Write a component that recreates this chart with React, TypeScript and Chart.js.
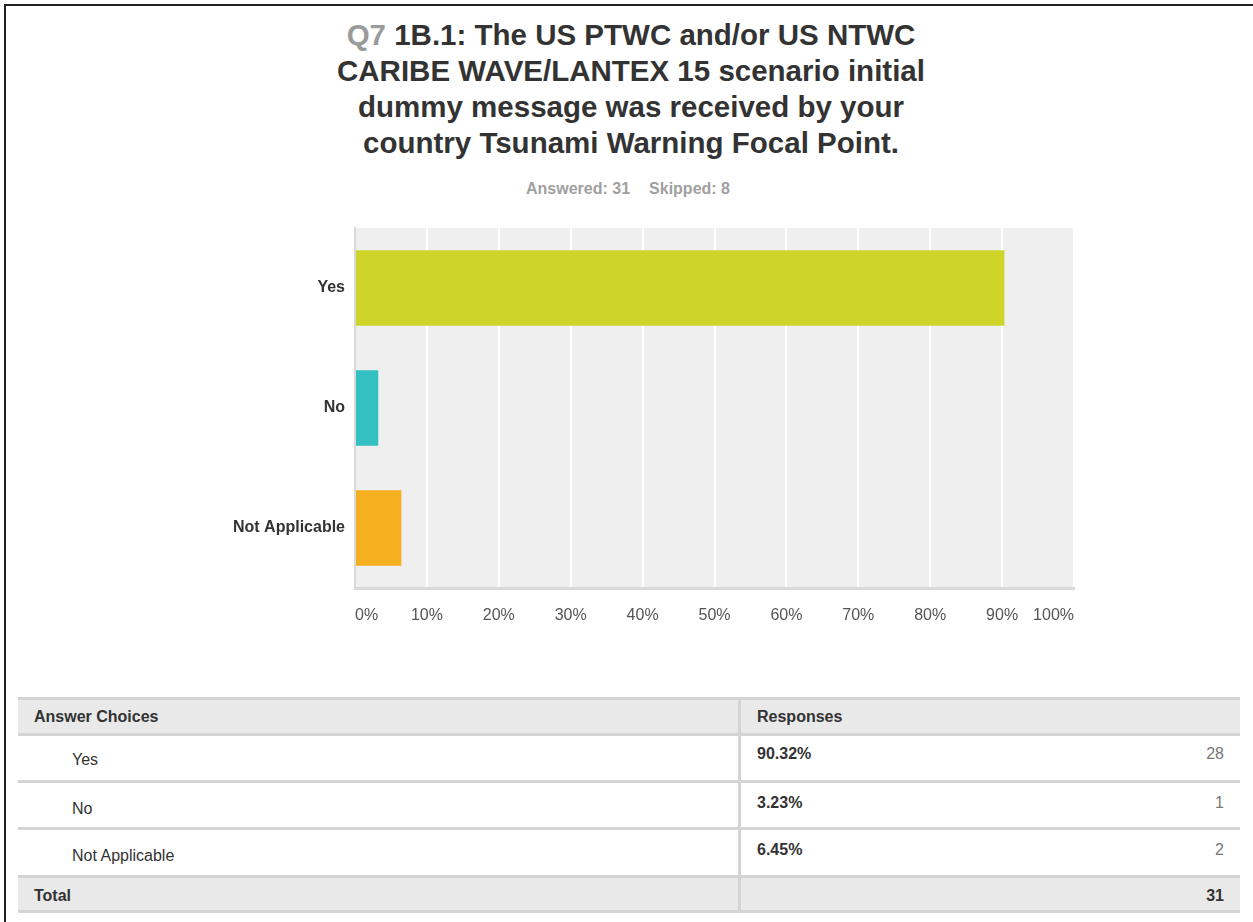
import React, { useEffect, useRef } from "react";
import { Chart, registerables } from "chart.js";

Chart.register(...registerables);

const questionNo = "Q7";
const titleLines = [
  "1B.1: The US PTWC and/or US NTWC",
  "CARIBE WAVE/LANTEX 15 scenario initial",
  "dummy message was received by your",
  "country Tsunami Warning Focal Point.",
];
const answered = 31;
const skipped = 8;
const categories = ["Yes", "No", "Not Applicable"];
const percentValues = [90.32, 3.23, 6.45];
const counts = [28, 1, 2];
const total = 31;
const barColors = ["#cfd428", "#34bfc0", "#f6af1e"];
const xTicks = [0, 10, 20, 30, 40, 50, 60, 70, 80, 90, 100];

const FONT = "'Liberation Sans', Arial, Helvetica, sans-serif";

const plotBg = {
  id: "plotBg",
  beforeDraw(chart: any) {
    const { ctx, chartArea } = chart;
    ctx.save();
    ctx.fillStyle = "#efefef";
    ctx.fillRect(chartArea.left, chartArea.top, chartArea.right - chartArea.left, chartArea.bottom - chartArea.top);
    ctx.restore();
  },
};

function BarChart() {
  const ref = useRef<HTMLCanvasElement>(null);
  useEffect(() => {
    if (!ref.current) return;
    const chart = new Chart(ref.current, {
      type: "bar",
      data: {
        labels: categories,
        datasets: [
          {
            data: percentValues,
            backgroundColor: barColors,
            borderWidth: 0,
            barPercentage: 0.63,
            categoryPercentage: 1,
          },
        ],
      },
      plugins: [plotBg],
      options: {
        indexAxis: "y",
        responsive: false,
        animation: false,
        devicePixelRatio: 1,
        layout: { padding: { top: 8, right: 26, bottom: 12, left: 0 } },
        plugins: {
          legend: { display: false },
          tooltip: { enabled: false },
          title: { display: false },
        },
        scales: {
          x: {
            min: 0,
            max: 100,
            afterFit: (s: any) => {
              s.height = 40;
              s.paddingLeft = 0;
              s.paddingRight = 0;
            },
            afterBuildTicks: (s: any) => {
              s.ticks = xTicks.map((v) => ({ value: v }));
            },
            ticks: {
              align: "inner",
              padding: 18,
              color: "#555",
              font: { family: FONT, size: 16 },
              callback: (v: any) => v + "%",
            },
            grid: {
              drawTicks: false,
              lineWidth: 2,
              color: (c: any) => (c.index === 0 ? "rgba(0,0,0,0)" : "#ffffff"),
            },
            border: { display: true, color: "#d9d9d9", width: 3 },
          },
          y: {
            afterFit: (s: any) => {
              s.width = 155;
              s.paddingTop = 0;
              s.paddingBottom = 0;
            },
            ticks: {
              padding: 10,
              color: "#333",
              font: { family: FONT, size: 16, weight: "bold" },
            },
            grid: { drawTicks: false, color: "rgba(0,0,0,0)" },
            border: { display: true, color: "#d9d9d9", width: 2 },
          },
        },
      },
    } as any);
    return () => chart.destroy();
  }, []);
  return <canvas ref={ref} width={900} height={420} style={{ display: "block", width: 900, height: 420 }} />;
}

const abs = (l: number, t: number, w: number, h: number, extra: any = {}) => ({
  position: "absolute" as const,
  left: l,
  top: t,
  width: w,
  height: h,
  ...extra,
});

export default function App() {
  const tableLeft = 18;
  const tableRight = 1240;
  const divX = 738;
  const lineColor = "#d4d4d4";
  const rowTops = [733, 782, 829];
  const textStyle = { fontFamily: FONT, fontSize: 16, color: "#333", lineHeight: "18px", whiteSpace: "nowrap" as const };

  return (
    <div style={{ position: "absolute", left: 0, top: 0, width: 1253, height: 922, background: "#fff", fontFamily: FONT, overflow: "hidden" }}>
      {/* page frame */}
      <div style={abs(4, 4, 1249, 2, { background: "#222" })} />
      <div style={abs(4, 4, 2, 918, { background: "#222" })} />

      {/* title */}
      <div style={abs(193, 17, 876, 150, { textAlign: "center", fontWeight: "bold", fontSize: 29.5, lineHeight: "36px", color: "#333" })}>
        {titleLines.map((ln, i) => (
          <div key={i}>
            {i === 0 ? <span style={{ color: "#9a9a9a" }}>{questionNo} </span> : null}
            {ln}
          </div>
        ))}
      </div>
      <div style={abs(400, 180, 456, 18, { textAlign: "center", fontWeight: "bold", fontSize: 16, lineHeight: "18px", color: "#a0a0a0" })}>
        <span>Answered: {answered}</span>
        <span style={{ marginLeft: 19 }}>Skipped: {skipped}</span>
      </div>

      {/* chart */}
      <div style={abs(200, 220, 900, 420)}>
        <BarChart />
      </div>

      {/* table */}
      <div style={abs(tableLeft, 697, tableRight - tableLeft, 36, { background: "#e9e9e9" })} />
      <div style={abs(tableLeft, 877, tableRight - tableLeft, 35, { background: "#e9e9e9" })} />
      {[697, 733, 780, 827, 875, 910].map((y, i) => (
        <div key={"l" + i} style={abs(tableLeft, y, tableRight - tableLeft, 3, { background: lineColor })} />
      ))}
      <div style={abs(divX, 697, 3, 215, { background: lineColor })} />

      <div style={abs(34, 708, 300, 18, { ...textStyle, fontWeight: "bold" })}>Answer Choices</div>
      <div style={abs(757, 708, 300, 18, { ...textStyle, fontWeight: "bold" })}>Responses</div>

      {categories.map((c, i) => (
        <React.Fragment key={c}>
          <div style={abs(72, rowTops[i] + 18, 400, 18, textStyle)}>{c}</div>
          <div style={abs(757, rowTops[i] + 12, 200, 18, { ...textStyle, fontWeight: "bold" })}>
            {percentValues[i].toFixed(2)}%
          </div>
          <div style={abs(1024, rowTops[i] + 12, 200, 18, { ...textStyle, color: "#777", textAlign: "right" })}>
            {counts[i]}
          </div>
        </React.Fragment>
      ))}

      <div style={abs(34, 887, 300, 18, { ...textStyle, fontWeight: "bold" })}>Total</div>
      <div style={abs(1024, 887, 200, 18, { ...textStyle, fontWeight: "bold", textAlign: "right" })}>{total}</div>
    </div>
  );
}
